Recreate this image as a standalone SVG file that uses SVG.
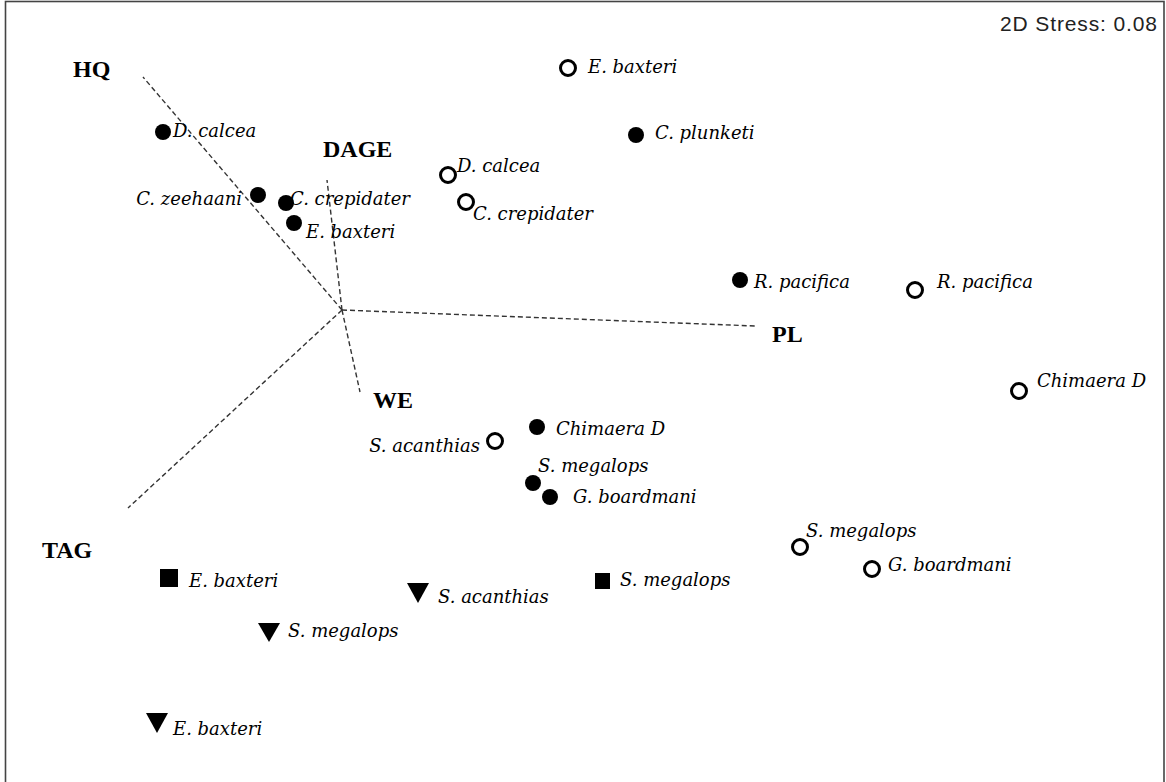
<svg xmlns="http://www.w3.org/2000/svg" width="1166" height="782" viewBox="0 0 1166 782">
<style>
.sp{font-family:"DejaVu Serif","Liberation Serif",serif;font-style:italic;font-size:18px;fill:#000}
.ax{font-family:"Liberation Serif","Times New Roman",serif;font-weight:bold;font-size:24px;fill:#000}
.st{font-family:"Liberation Sans",Arial,sans-serif;font-size:21px;fill:#222}
.f{fill:#000}
.o{fill:#fff;stroke:#000;stroke-width:3}
.vec{stroke:#333;stroke-width:1.4;stroke-dasharray:5 3;fill:none}
</style>
<rect x="0" y="0" width="1166" height="782" fill="#fff"/>
<rect x="5.5" y="1.5" width="1158.5" height="800" fill="none" stroke="#444" stroke-width="1.6"/>
<text class="st" x="1000" y="31" textLength="157" lengthAdjust="spacing">2D Stress: 0.08</text>
<g id="connectors">
<line class="vec" x1="342" y1="310" x2="143" y2="77"/>
<line class="vec" x1="342" y1="310" x2="327" y2="180"/>
<line class="vec" x1="342" y1="310" x2="755" y2="326"/>
<line class="vec" x1="342" y1="310" x2="360" y2="392"/>
<line class="vec" x1="342" y1="310" x2="128" y2="508"/>
</g>
<g id="axis-HQ"><text class="ax" x="73" y="77">HQ</text></g>
<g id="axis-DAGE"><text class="ax" x="323" y="157">DAGE</text></g>
<g id="axis-PL"><text class="ax" x="772" y="342">PL</text></g>
<g id="axis-WE"><text class="ax" x="373" y="408">WE</text></g>
<g id="axis-TAG"><text class="ax" x="42" y="558">TAG</text></g>
<g id="f-dcalcea"><circle class="f" cx="163" cy="132" r="8"/><text class="sp" x="173" y="137">D. calcea</text></g>
<g id="f-czeehaani"><circle class="f" cx="258" cy="195" r="8"/><text class="sp" x="242" y="205" text-anchor="end">C. zeehaani</text></g>
<g id="f-ccrepidater"><circle class="f" cx="286" cy="203" r="8"/><text class="sp" x="290" y="205">C. crepidater</text></g>
<g id="f-ebaxteri"><circle class="f" cx="294" cy="223" r="8"/><text class="sp" x="306" y="238">E. baxteri</text></g>
<g id="o-ebaxteri"><circle class="o" cx="568" cy="68" r="7.5"/><text class="sp" x="588" y="73">E. baxteri</text></g>
<g id="f-cplunketi"><circle class="f" cx="636" cy="135" r="8"/><text class="sp" x="655" y="139">C. plunketi</text></g>
<g id="o-dcalcea"><circle class="o" cx="448" cy="175" r="7.5"/><text class="sp" x="457" y="172">D. calcea</text></g>
<g id="o-ccrepidater"><circle class="o" cx="466" cy="202" r="7.5"/><text class="sp" x="473" y="220">C. crepidater</text></g>
<g id="f-rpacifica"><circle class="f" cx="740" cy="280" r="8"/><text class="sp" x="754" y="288">R. pacifica</text></g>
<g id="o-rpacifica"><circle class="o" cx="915" cy="290" r="7.5"/><text class="sp" x="937" y="288">R. pacifica</text></g>
<g id="o-chimaerad"><circle class="o" cx="1019" cy="391" r="7.5"/><text class="sp" x="1037" y="387">Chimaera D</text></g>
<g id="f-chimaerad"><circle class="f" cx="537" cy="427" r="8"/><text class="sp" x="556" y="435">Chimaera D</text></g>
<g id="o-sacanthias"><circle class="o" cx="495" cy="441" r="7.5"/><text class="sp" x="480" y="452" text-anchor="end">S. acanthias</text></g>
<g id="f-smegalops"><circle class="f" cx="533" cy="483" r="8"/><text class="sp" x="538" y="472">S. megalops</text></g>
<g id="f-gboardmani"><circle class="f" cx="550" cy="497" r="8"/><text class="sp" x="573" y="503">G. boardmani</text></g>
<g id="o-smegalops"><circle class="o" cx="800" cy="547" r="7.5"/><text class="sp" x="806" y="537">S. megalops</text></g>
<g id="o-gboardmani"><circle class="o" cx="872" cy="569" r="7.5"/><text class="sp" x="888" y="571">G. boardmani</text></g>
<g id="s-ebaxteri"><rect class="f" x="160" y="569" width="18" height="18"/><text class="sp" x="189" y="587">E. baxteri</text></g>
<g id="s-smegalops"><rect class="f" x="595" y="573" width="15" height="16"/><text class="sp" x="620" y="586">S. megalops</text></g>
<g id="t-sacanthias"><polygon class="f" points="407,583 429,583 418,603"/><text class="sp" x="438" y="603">S. acanthias</text></g>
<g id="t-smegalops"><polygon class="f" points="258,623 280,623 269,642"/><text class="sp" x="288" y="637">S. megalops</text></g>
<g id="t-ebaxteri"><polygon class="f" points="146,713 168,713 157,733"/><text class="sp" x="173" y="735">E. baxteri</text></g>
</svg>
